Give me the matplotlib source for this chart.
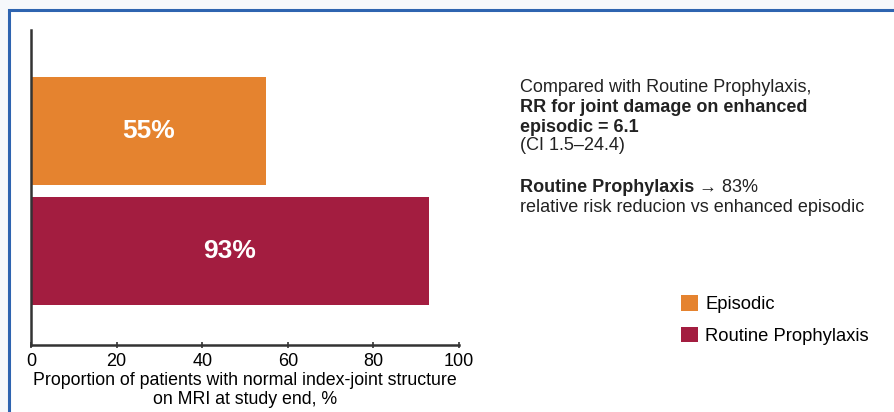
import matplotlib.pyplot as plt
from matplotlib.patches import Patch, Rectangle

plt.rcParams['font.family'] = ['Liberation Sans', 'DejaVu Sans']

# data
groups = ['Routine Prophylaxis', 'Episodic']
values = [93, 55]
colors = ['#A31D40', '#E5832F']
xticks = [0, 20, 40, 60, 80, 100]

fig = plt.figure(figsize=(8.95, 4.12), dpi=100, facecolor='#f6f8fb')

# white panel with blue border
panel = Rectangle((9 / 895, -0.2), 1.2, 1.2 - 10 / 412,
                  transform=fig.transFigure, facecolor='white',
                  edgecolor='#2e64b0', linewidth=2.2, zorder=-5)
fig.add_artist(panel)

ax = fig.add_axes([31 / 895, 1 - 345 / 412, (459 - 31) / 895, (345 - 30) / 412])
ax.set_zorder(2)
ax.set_facecolor('none')

ypos = [0, 1]
bars = ax.barh(ypos, values, height=0.9, color=colors, zorder=2)
for y, v in zip(ypos, values):
    ax.text(v / 2, y, f'{v}%', ha='center', va='center', color='white',
            fontsize=19, fontweight='bold', zorder=3)

ax.set_xlim(0, 100)
ax.set_ylim(-0.783, 1.842)
ax.set_xticks(xticks)
ax.set_xticklabels([str(t) for t in xticks], fontsize=13)
ax.set_yticks([])
ax.tick_params(axis='x', direction='inout', length=5, width=1.2, color='#333333', pad=3)
for s in ['top', 'right']:
    ax.spines[s].set_visible(False)
for s in ['left', 'bottom']:
    ax.spines[s].set_color('#333333')
    ax.spines[s].set_linewidth(1.8)
ax.set_xlabel('Proportion of patients with normal index-joint structure\non MRI at study end, %',
              fontsize=12.8, labelpad=1.5, linespacing=1.15)

# annotation block on the right
tx = 520 / 895
fs = 13
lines = [
    (88, 'Compared with Routine Prophylaxis,', 'normal'),
    (108, 'RR for joint damage on enhanced', 'bold'),
    (127, 'episodic = 6.1', 'bold'),
    (146, '(CI 1.5\u201324.4)', 'normal'),
]
for yp, s, w in lines:
    fig.text(tx, 1 - yp / 412, s, fontsize=fs, fontweight=w, va='center', ha='left',
             color='#222222')

t = fig.text(tx, 1 - 188 / 412, 'Routine Prophylaxis', fontsize=fs, fontweight='bold',
             va='center', ha='left', color='#222222')
ax.annotate(' \u2192 83%', xy=(1, 0), xycoords=t, va='bottom', ha='left',
            fontsize=fs, color='#222222', annotation_clip=False,
            family=['Liberation Sans', 'DejaVu Sans'])
fig.text(tx, 1 - 208 / 412, 'relative risk reducion vs enhanced episodic', fontsize=fs,
         va='center', ha='left', color='#222222')

handles = [Patch(facecolor=colors[1], label='Episodic'),
           Patch(facecolor=colors[0], label='Routine Prophylaxis')]
fig.legend(handles=handles, loc='upper left', bbox_to_anchor=(681 / 895, 1 - 295 / 412),
           frameon=False, fontsize=13.2, handlelength=0.93, handleheight=0.93,
           handletextpad=0.4, labelspacing=0.75, borderaxespad=0, borderpad=0)

fig.savefig('out.png', dpi=100, facecolor=fig.get_facecolor())
